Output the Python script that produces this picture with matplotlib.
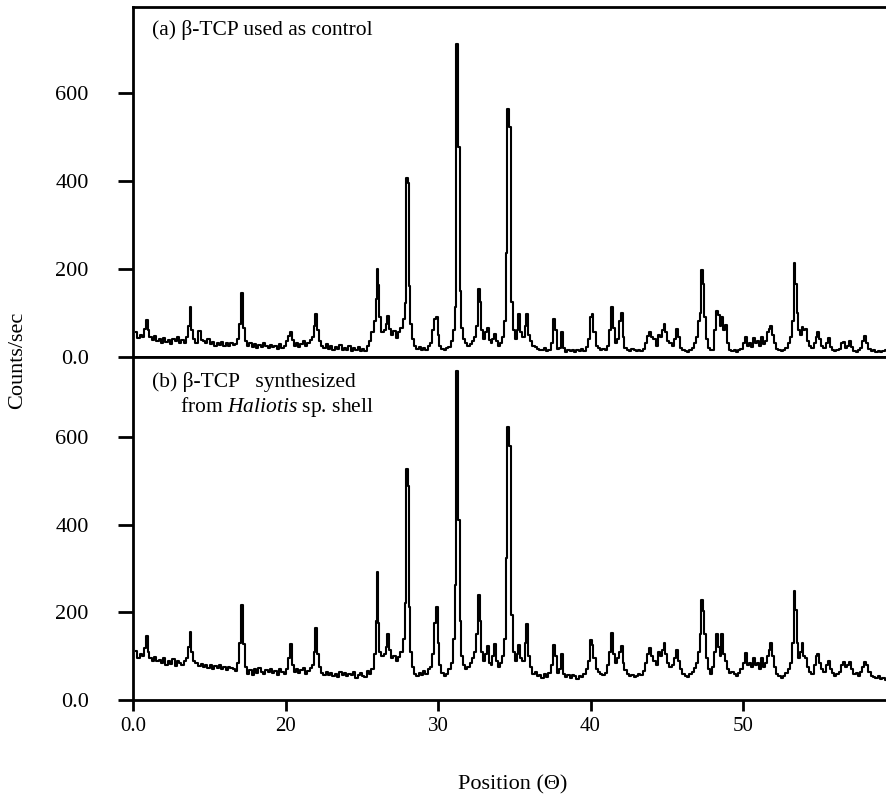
import matplotlib
matplotlib.use("Agg")
import matplotlib.pyplot as plt

plt.rcParams['font.family'] = ['Liberation Serif', 'DejaVu Serif']
plt.rcParams['mathtext.fontset'] = 'custom'
plt.rcParams['mathtext.rm'] = 'Liberation Serif'
plt.rcParams['mathtext.it'] = 'Liberation Serif:italic'

# -- data (2-theta position, counts/sec)
two_theta = [
    10.2, 10.35, 10.5, 10.65, 10.8, 10.9, 11.0, 11.15, 11.3, 11.45, 11.6, 11.75, 11.9, 12.05,
    12.2, 12.35, 12.5, 12.65, 12.8, 12.95, 13.1, 13.25, 13.4, 13.55, 13.7, 13.78, 13.85, 14.0,
    14.15, 14.35, 14.5, 14.65, 14.8, 14.95, 15.1, 15.25, 15.4, 15.55, 15.7, 15.85, 16.0, 16.15,
    16.3, 16.45, 16.6, 16.75, 16.9, 17.05, 17.17, 17.3, 17.4, 17.55,
    17.7, 17.85, 18.0, 18.15, 18.3, 18.45, 18.6, 18.75, 18.9, 19.05, 19.2, 19.35, 19.5, 19.65,
    19.8, 19.95, 20.1, 20.25, 20.34, 20.45, 20.6,
    20.75, 20.9, 21.05, 21.2, 21.35, 21.5, 21.65, 21.8, 21.92, 22.0, 22.1, 22.25, 22.4, 22.55,
    22.7, 22.85, 23.0, 23.15, 23.3, 23.45, 23.6, 23.75, 23.9, 24.05, 24.2, 24.35, 24.5, 24.65,
    24.8, 24.95, 25.1, 25.25, 25.4, 25.55, 25.7, 25.85, 25.95, 26.02, 26.1, 26.2,
    26.35, 26.5, 26.62, 26.74, 26.85, 27.0, 27.15, 27.3, 27.45, 27.6, 27.75, 27.88, 27.98, 28.05,
    28.12, 28.22, 28.35, 28.5,
    28.65, 28.8, 28.95, 29.1, 29.25, 29.4, 29.55, 29.7, 29.82, 29.92, 30.02, 30.15, 30.3, 30.45,
    30.6, 30.75, 30.9, 31.05, 31.15,
    31.27, 31.37, 31.47, 31.58, 31.7, 31.85, 32.0, 32.15, 32.3, 32.45, 32.58, 32.68, 32.78, 32.9,
    33.0, 33.12, 33.25, 33.38, 33.5, 33.62, 33.75, 33.85, 33.98, 34.1, 34.25, 34.4, 34.5,
    34.6, 34.7, 34.82, 34.95, 35.1, 35.22, 35.33, 35.45, 35.6, 35.75, 35.85, 35.98, 36.1, 36.25,
    36.4, 36.55, 36.7, 36.85, 37.0, 37.15, 37.3, 37.45, 37.6,
    37.72, 37.85, 38.0, 38.15, 38.28, 38.4, 38.55, 38.7, 38.85, 39.0, 39.15, 39.3, 39.45, 39.6,
    39.75, 39.9, 40.02, 40.12, 40.25, 40.4,
    40.55, 40.7, 40.85, 41.0, 41.15, 41.3, 41.4, 41.5, 41.65, 41.8, 41.95, 42.05, 42.15, 42.3,
    42.45, 42.6, 42.75, 42.9,
    43.05, 43.2, 43.35, 43.5, 43.65, 43.8, 43.92, 44.05, 44.2, 44.35, 44.5, 44.62, 44.75, 44.85,
    44.95, 45.1, 45.25, 45.4, 45.55, 45.67, 45.8, 45.95, 46.1, 46.25, 46.4, 46.55,
    46.7, 46.85, 47.0, 47.12, 47.22, 47.31, 47.41, 47.5, 47.62, 47.75, 47.9, 48.05, 48.18, 48.3,
    48.42, 48.52, 48.62, 48.75, 48.85, 49.0, 49.15,
    49.3, 49.45, 49.6, 49.75, 49.9, 50.05, 50.2, 50.32, 50.45, 50.6, 50.7, 50.85, 51.0, 51.12,
    51.22, 51.35, 51.5, 51.62, 51.75, 51.85, 51.95, 52.1, 52.25, 52.4, 52.55, 52.7, 52.85, 53.0,
    53.15, 53.3,
    53.4, 53.47, 53.55, 53.65, 53.78, 53.9, 54.0, 54.12, 54.25, 54.4, 54.55, 54.7, 54.82, 54.92,
    55.05, 55.2, 55.35, 55.5, 55.6, 55.75, 55.9, 56.05, 56.2, 56.35, 56.5, 56.62, 56.75, 56.9,
    57.02, 57.15, 57.3, 57.45, 57.6, 57.75, 57.9, 58.02, 58.15, 58.3, 58.45, 58.6, 58.75, 58.9,
    59.05, 59.2, 59.4,
]

# (a) beta-TCP control
counts_control = [
    55, 42, 50, 45, 62, 83, 60, 44, 38, 47, 35, 40, 30, 42,
    33, 38, 28, 40, 35, 44, 30, 38, 32, 45, 70, 113, 60, 40,
    32, 58, 38, 35, 30, 40, 28, 33, 25, 30, 27, 34, 25, 30,
    24, 32, 26, 28, 40, 75, 145, 65, 35, 25,
    30, 22, 28, 20, 26, 22, 30, 24, 20, 27, 22, 25, 18, 28,
    20, 25, 35, 48, 55, 38, 25,
    30, 22, 28, 35, 25, 30, 38, 45, 70, 97, 60, 35, 25, 20,
    28, 18, 25, 15, 22, 18, 26, 14, 20, 16, 24, 12, 20, 15,
    22, 13, 18, 12, 25, 35, 55, 80, 130, 199, 163, 90,
    55, 60, 75, 93, 62, 50, 58, 42, 55, 65, 85, 123, 405, 395,
    160, 75, 40, 25,
    18, 22, 15, 20, 16, 25, 30, 60, 85, 90, 50, 25, 18, 15,
    20, 22, 35, 60, 114,
    710, 477, 150, 65, 40, 30, 25, 28, 35, 45, 70, 154, 125, 60,
    40, 55, 65, 38, 30, 40, 52, 35, 25, 30, 45, 80, 236,
    564, 523, 125, 60, 40, 60, 96, 55, 45, 70, 96, 50, 35, 25,
    22, 18, 15, 14, 20, 12, 16, 30, 85,
    60, 18, 20, 55, 20, 10, 15, 12, 14, 10, 16, 12, 18, 13,
    22, 40, 90, 96, 55, 25,
    20, 15, 18, 14, 25, 60, 112, 65, 30, 40, 80, 100, 45, 20,
    15, 12, 18, 14,
    12, 16, 12, 18, 30, 48, 55, 45, 40, 25, 50, 45, 60, 74,
    55, 35, 30, 25, 40, 62, 45, 20, 14, 12, 10, 15,
    20, 30, 45, 80, 100, 196, 165, 90, 40, 20, 14, 16, 60, 104,
    95, 70, 90, 60, 73, 30, 15,
    12, 15, 10, 14, 18, 30, 44, 25, 30, 22, 43, 30, 35, 25,
    44, 28, 35, 55, 62, 70, 50, 30, 18, 15, 12, 14, 20, 30,
    45, 80,
    214, 166, 100, 60, 50, 68, 60, 64, 35, 25, 20, 30, 45, 55,
    40, 25, 20, 30, 42, 22, 15, 12, 14, 18, 30, 33, 20, 25,
    35, 22, 12, 10, 14, 20, 35, 48, 30, 18, 12, 14, 10, 13,
    11, 12, 14,
]

# (b) beta-TCP from Haliotis sp. shell
counts_shell = [
    112, 95, 105, 100, 118, 146, 110, 95, 90, 98, 88, 92, 84, 95,
    80, 90, 83, 93, 78, 88, 85, 80, 90, 95, 120, 154, 110, 88,
    85, 78, 83, 75, 80, 72, 79, 70, 77, 73, 80, 70, 75, 68,
    76, 72, 70, 66, 85, 130, 217, 128, 75, 60,
    68, 58, 70, 62, 73, 65, 60, 68, 63, 71, 62, 66, 58, 70,
    64, 60, 70, 95, 127, 80, 65,
    70, 62, 68, 73, 60, 66, 72, 80, 110, 164, 105, 75, 62, 56,
    64, 58, 62, 55, 60, 52, 63, 57, 61, 54, 60, 56, 64, 50,
    58, 62, 55, 52, 66, 60, 70, 105, 180, 293, 176, 110,
    100, 105, 120, 150, 115, 95, 100, 90, 98, 110, 140, 221, 527, 488,
    213, 110, 75, 60,
    55, 62, 58, 66, 60, 70, 75, 105, 176, 211, 130, 80, 62, 55,
    60, 70, 85, 139, 262,
    751, 411, 180, 100, 80, 70, 75, 85, 95, 110, 150, 240, 180, 110,
    90, 105, 123, 85, 80, 100, 127, 90, 75, 85, 100, 140, 323,
    622, 580, 194, 110, 90, 105, 125, 95, 90, 130, 173, 100, 75, 60,
    65, 55, 58, 50, 60, 52, 62, 80, 125,
    100, 62, 70, 105, 60, 52, 56, 50, 58, 54, 48, 55, 52, 60,
    70, 90, 137, 125, 95, 70,
    65, 60, 58, 62, 80, 110, 152, 105, 85, 95, 110, 123, 85, 68,
    60, 55, 58, 52,
    55, 60, 58, 66, 85, 105, 119, 100, 90, 80, 110, 100, 115, 129,
    105, 85, 75, 80, 95, 115, 90, 70, 60, 55, 52, 60,
    65, 72, 85, 110, 150, 227, 202, 150, 95, 70, 60, 75, 110, 150,
    120, 100, 150, 105, 90, 70, 62,
    65, 60, 55, 62, 70, 85, 108, 80, 85, 75, 96, 80, 85, 70,
    96, 75, 85, 100, 115, 131, 100, 75, 60, 55, 50, 55, 62, 70,
    85, 130,
    249, 205, 130, 95, 110, 129, 100, 95, 75, 65, 60, 80, 100, 106,
    85, 70, 65, 80, 90, 70, 62, 55, 60, 65, 80, 87, 75, 80,
    86, 70, 60, 62, 55, 65, 75, 87, 80, 65, 55, 52, 50, 55,
    48, 50, 46,
]

x_ticks = [10, 20, 30, 40, 50]
x_tick_labels = ['0.0', '20', '30', '40', '50']
y_ticks = [0, 200, 400, 600]
y_tick_labels = ['0.0', '200', '400', '600']

assert len(two_theta) == len(counts_control) == len(counts_shell)

fig = plt.figure(figsize=(8.87, 7.97), dpi=100)
ax_a = fig.add_axes([0.15, 0.5525, 0.85, 0.4383])
ax_b = fig.add_axes([0.15, 0.1217, 0.85, 0.4308])

for ax, y, top in [(ax_a, counts_control, 794), (ax_b, counts_shell, 783)]:
    ax.plot(two_theta, y, color='black', lw=1.5, drawstyle='steps-mid')
    ax.set_xlim(10, 59.44)
    ax.set_ylim(0, top)
    ax.spines['right'].set_visible(False)
    for s in ['left', 'top', 'bottom']:
        ax.spines[s].set_linewidth(2.0)
    ax.set_yticks(y_ticks)
    ax.set_yticklabels(y_tick_labels)
    ax.tick_params(axis='y', direction='out', length=11, width=2.0, pad=21, labelsize=16)

ax_a.set_xticks([])
ax_b.set_xticks(x_ticks)
ax_b.set_xticklabels(x_tick_labels)
ax_b.tick_params(axis='x', direction='out', length=8, width=2.0, pad=4, labelsize=15)

ax_a.text(0.025, 0.935, '(a) β-TCP used as control', transform=ax_a.transAxes,
          fontsize=15.5, va='center', ha='left')
ax_b.text(0.025, 0.925, '(b) β-TCP   synthesized', transform=ax_b.transAxes,
          fontsize=15.5, va='center', ha='left')
ax_b.text(0.062, 0.852, r'from $\mathit{Haliotis}$ sp. shell', transform=ax_b.transAxes,
          fontsize=15.5, va='center', ha='left')

fig.text(0.02, 0.548, 'Counts/sec', rotation=90, fontsize=16, va='center', ha='center')
fig.text(0.578, 0.015, 'Position (Θ)', fontsize=16, va='center', ha='center')

fig.savefig('out.png', dpi=100)
